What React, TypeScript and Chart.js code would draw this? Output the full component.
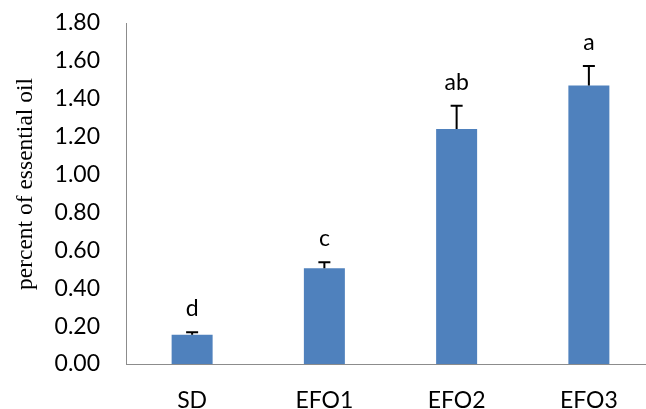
import React, { useEffect, useRef } from 'react';
import { Chart, registerables } from 'chart.js';

Chart.register(...registerables);

const categories = ['SD', 'EFO1', 'EFO2', 'EFO3'];
const values = [0.155, 0.505, 1.24, 1.47];
const errors = [0.013, 0.032, 0.123, 0.103];
const letters = ['d', 'c', 'ab', 'a'];
const yMin = 0;
const yMax = 1.8;
const yStep = 0.2;
const yTitle = 'percent of essential oil';

const TEXT_FONT = 'Lato';

const errorLetterPlugin = {
  id: 'errorLetters',
  afterDatasetsDraw(chart: any) {
    const ctx = chart.ctx;
    const meta = chart.getDatasetMeta(0);
    const yScale = chart.scales.y;
    ctx.save();
    meta.data.forEach((bar: any, i: number) => {
      const x = bar.x;
      const yTop = yScale.getPixelForValue(values[i]);
      const yErr = yScale.getPixelForValue(values[i] + errors[i]);
      ctx.strokeStyle = '#000';
      ctx.lineWidth = 2;
      ctx.beginPath();
      ctx.moveTo(x, yTop);
      ctx.lineTo(x, yErr);
      ctx.moveTo(x - 6, yErr);
      ctx.lineTo(x + 6, yErr);
      ctx.stroke();
      ctx.fillStyle = '#000';
      ctx.font = `23px ${TEXT_FONT}`;
      ctx.textAlign = 'center';
      ctx.textBaseline = 'alphabetic';
      ctx.fillText(letters[i], x, yErr - 16);
    });
    // y-axis title
    ctx.translate(26, 184);
    ctx.rotate(-Math.PI / 2);
    ctx.font = '23.5px "Liberation Serif"';
    ctx.textAlign = 'center';
    ctx.textBaseline = 'middle';
    ctx.fillStyle = '#000';
    ctx.fillText(yTitle, 0, 0);
    ctx.restore();
  },
};

export default function App() {
  const canvasRef = useRef<HTMLCanvasElement | null>(null);

  useEffect(() => {
    document.body.style.margin = '0';
    const canvas = canvasRef.current;
    if (!canvas) return;
    const chart = new Chart(canvas, {
      type: 'bar',
      data: {
        labels: categories,
        datasets: [
          {
            data: values,
            backgroundColor: '#4F81BD',
            borderWidth: 0,
            barPercentage: 0.31,
            categoryPercentage: 1,
          },
        ],
      },
      options: {
        responsive: false,
        maintainAspectRatio: false,
        animation: false,
        devicePixelRatio: 1,
        layout: { padding: { top: 23, left: 0, right: 1, bottom: 0 } },
        plugins: {
          legend: { display: false },
          tooltip: { enabled: false },
        },
        scales: {
          x: {
            grid: { display: false, drawTicks: false },
            border: { display: true, color: '#8c8c8c', width: 1 },
            ticks: {
              color: '#000',
              font: { family: TEXT_FONT, size: 23 },
              padding: 23,
              maxRotation: 0,
            },
            afterFit: (scale: any) => {
              scale.height = 45;
              scale.paddingLeft = 0;
              scale.paddingRight = 0;
            },
          },
          y: {
            min: yMin,
            max: yMax,
            grid: { display: false, drawTicks: false },
            border: { display: true, color: '#8c8c8c', width: 1 },
            ticks: {
              stepSize: yStep,
              color: '#000',
              font: { family: TEXT_FONT, size: 23 },
              padding: 26,
              callback: (v: any) => Number(v).toFixed(2),
            },
            title: { display: false },
            afterFit: (scale: any) => {
              scale.width = 126;
              scale.paddingTop = 0;
              scale.paddingBottom = 0;
            },
          },
        },
      },
      plugins: [errorLetterPlugin],
    });
    return () => chart.destroy();
  }, []);

  return (
    <div style={{ width: 646, height: 409, overflow: 'hidden', position: 'relative' }}>
      <canvas ref={canvasRef} width={656} height={409} style={{ display: 'block' }} />
    </div>
  );
}
